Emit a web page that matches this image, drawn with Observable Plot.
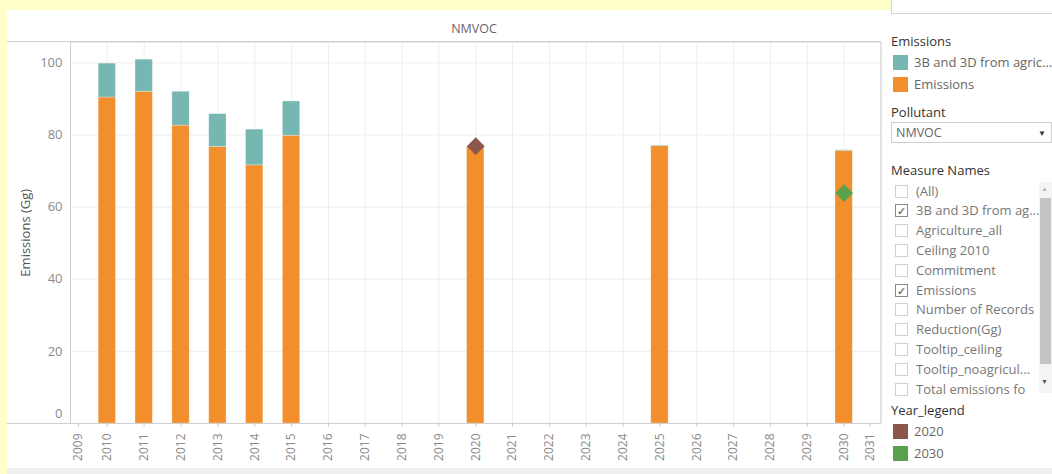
<!DOCTYPE html>
<html><head><meta charset="utf-8">
<script src="https://cdn.jsdelivr.net/npm/d3@7"></script>
<script src="https://cdn.jsdelivr.net/npm/@observablehq/plot@0.6"></script>
<style>
html,body{margin:0;padding:0}
body{width:1052px;height:474px;overflow:hidden;background:#ffffcc;font-family:"Open Sans",sans-serif;position:relative}
.abs{position:absolute}
#panel{left:7px;top:10px;width:1045px;height:458px;background:#fff}
#bottomband{left:7px;top:468px;width:1045px;height:6px;background:#efefef}
#topbox{left:891px;top:-2px;width:170px;height:14px;background:#fff;border:1px solid #d4d4d4}
#title{left:374px;width:200px;top:20px;text-align:center;font-size:12.5px;color:#6b6271}
.hline{height:1px;background:#cfcfcf}
#chart{left:0;top:0}
.lgtitle{font-size:13px;color:#333;left:891px;line-height:18px;white-space:nowrap}
.lgitem{font-size:13px;color:#666;line-height:18px;white-space:nowrap}
.sw{width:15px;height:15px}
#dropdown{left:891px;top:122px;width:161px;height:21px;border:1px solid #cfcfcf;box-sizing:border-box;font-size:12.5px;color:#666;line-height:19px;padding-left:4px}
#dropdown span{position:absolute;right:5px;top:0;font-size:8px;color:#333}
#list{left:891px;top:182px;width:148px;height:217px;overflow:hidden}
.cb{position:absolute;left:4px;width:13px;height:13px;border:1px solid #d0d0d0;box-sizing:border-box;background:#fff;font-size:11px;line-height:11px;text-align:center;color:#444}
.cb.on{border-color:#888}
.lt{position:absolute;left:25px;font-size:13px;color:#777;white-space:nowrap;line-height:18px}
#scroll{left:1039px;top:182px;width:13px;height:211px;background:#f4f4f4}
#thumb{left:1040px;top:198px;width:11px;height:166px;background:#c4c4c4}
</style></head><body>
<div id="panel" class="abs"></div>
<div id="bottomband" class="abs"></div>
<div id="topbox" class="abs"></div>
<div id="title" class="abs">NMVOC</div>
<div class="abs hline" style="left:7px;top:41px;width:874px"></div>
<div class="abs hline" style="left:7px;top:423px;width:874px"></div>
<div id="chart" class="abs"></div>
<div id="legend"></div>
<script>
// ---- data ----
const years = [2010, 2011, 2012, 2013, 2014, 2015, 2020, 2025, 2030];
const emissions = [90.4, 92.0, 82.6, 76.7, 71.6, 79.8, 76.7, 76.9, 75.6];
const agriculture3B3D = [9.4, 8.9, 9.4, 9.1, 9.9, 9.5, 0.2, 0.2, 0.2];
const seriesNames = ["3B and 3D from agric...", "Emissions"];
const targetYears = [2020, 2030];
const targetValues = [76.9, 63.9];
const targetLabels = ["2020", "2030"];
const axisYears = d3.range(2009, 2032);
const yTicks = [0, 20, 40, 60, 80, 100];
const measureNames = ["(All)", "3B and 3D from ag...", "Agriculture_all", "Ceiling 2010", "Commitment", "Emissions", "Number of Records", "Reduction(Gg)", "Tooltip_ceiling", "Tooltip_noagricul...", "Total emissions fo"];
const measureChecked = [false, true, false, false, false, true, false, false, false, false, false];
const pollutant = "NMVOC";

// ---- colours ----
const teal = "#76b7b2", orange = "#f28e2b", brown = "#8c564b", green = "#59a14f";
const colorDomain = [...seriesNames, ...targetLabels];
const colorRange = [teal, orange, brown, green];

// ---- table ----
const rows = [];
years.forEach((y, i) => {
  rows.push({year: y, series: "Emissions", value: emissions[i]});
  rows.push({year: y, series: seriesNames[0], value: agriculture3B3D[i]});
});
const targets = targetYears.map((y, i) => ({year: y, value: targetValues[i], label: targetLabels[i]}));
const half = 0.235;
const gridCol = "#eeeeee", axisCol = "#cfcfcf", tickText = "#8a8a8a";
const yearFmt = d => String(d);
const xAxisOpts = {tickRotate: -90, tickSize: 4, tickPadding: 6, fontSize: 12, fill: tickText, stroke: axisCol, label: null, tickFormat: yearFmt};

const chart = Plot.plot({
  width: 882, height: 468,
  marginLeft: 70, marginRight: 1.5, marginTop: 41.5, marginBottom: 45,
  style: {background: "transparent", fontFamily: "Open Sans", fontSize: "12px", color: tickText, overflow: "visible"},
  x: {domain: [2009, 2031], axis: null},
  y: {domain: [0, 105.8], axis: null},
  color: {domain: colorDomain, range: colorRange},
  marks: [
    Plot.gridX(axisYears, {stroke: gridCol, strokeOpacity: 1}),
    Plot.gridY(yTicks.slice(1), {stroke: gridCol, strokeOpacity: 1}),
    Plot.rectY(rows, {x1: d => d.year - half, x2: d => d.year + half, y: "value", fill: "series", order: ["Emissions", seriesNames[0]], stroke: "#fff", strokeOpacity: 0.35, strokeWidth: 0.8}),
    Plot.dot(targets, {x: "year", y: "value", symbol: "diamond2", r: 8, fill: "label", stroke: "none"}),
    Plot.frame({stroke: axisCol}),
    Plot.axisY(yTicks.slice(1), {tickSize: 0, tickPadding: 8, fontSize: 13, fill: tickText, label: "Emissions (Gg)", labelAnchor: "center", labelOffset: 50, labelArrow: "none"}),
    Plot.axisY([0], {tickSize: 0, tickPadding: 8, fontSize: 13, fill: tickText, dy: -10, label: null}),
    Plot.axisX(axisYears.slice(1, -1), xAxisOpts),
    Plot.axisX([axisYears[0]], {...xAxisOpts, dx: 8}),
    Plot.axisX([axisYears[axisYears.length - 1]], {...xAxisOpts, dx: -11})
  ]
});
document.getElementById("chart").appendChild(chart);
chart.querySelectorAll("[aria-label='y-axis label'] text, g[aria-label='y-axis label']").forEach(n => { n.setAttribute("fill", "#555"); n.style.fontSize = "13px"; });

// ---- right-hand panel ----
const lg = document.getElementById("legend");
function add(html) { lg.insertAdjacentHTML("beforeend", html); }
add(`<div class="abs lgtitle" style="top:32px">Emissions</div>`);
seriesNames.forEach((s, i) => {
  const top = 55 + i * 22;
  add(`<div class="abs sw" style="left:893px;top:${top}px;background:${colorRange[i]}"></div>`);
  add(`<div class="abs lgitem" style="left:914px;top:${top - 2}px;width:138px;overflow:hidden">${s}</div>`);
});
add(`<div class="abs lgtitle" style="top:103px">Pollutant</div>`);
add(`<div id="dropdown" class="abs">${pollutant}<span>&#9660;</span></div>`);
add(`<div class="abs lgtitle" style="top:161px">Measure Names</div>`);
let listHtml = `<div id="list" class="abs">`;
measureNames.forEach((m, i) => {
  const c = 9 + i * 19.8;
  listHtml += `<div class="cb${measureChecked[i] ? " on" : ""}" style="top:${c - 6.5}px">${measureChecked[i] ? "&#10003;" : ""}</div>`;
  listHtml += `<div class="lt" style="top:${c - 9.5}px">${m}</div>`;
});
listHtml += `</div>`;
add(listHtml);
add(`<div id="scroll" class="abs"></div><div id="thumb" class="abs"></div>`);
add(`<div class="abs" style="left:1041px;top:184px;font-size:7px;color:#bbb">&#9650;</div>`);
add(`<div class="abs" style="left:1041px;top:377px;font-size:7px;color:#555">&#9660;</div>`);
add(`<div class="abs lgtitle" style="top:401px">Year_legend</div>`);
targetLabels.forEach((t, i) => {
  const top = 424 + i * 22;
  add(`<div class="abs sw" style="left:893px;top:${top}px;background:${colorRange[2 + i]}"></div>`);
  add(`<div class="abs lgitem" style="left:914px;top:${top - 2}px">${t}</div>`);
});
</script>
</body></html>
